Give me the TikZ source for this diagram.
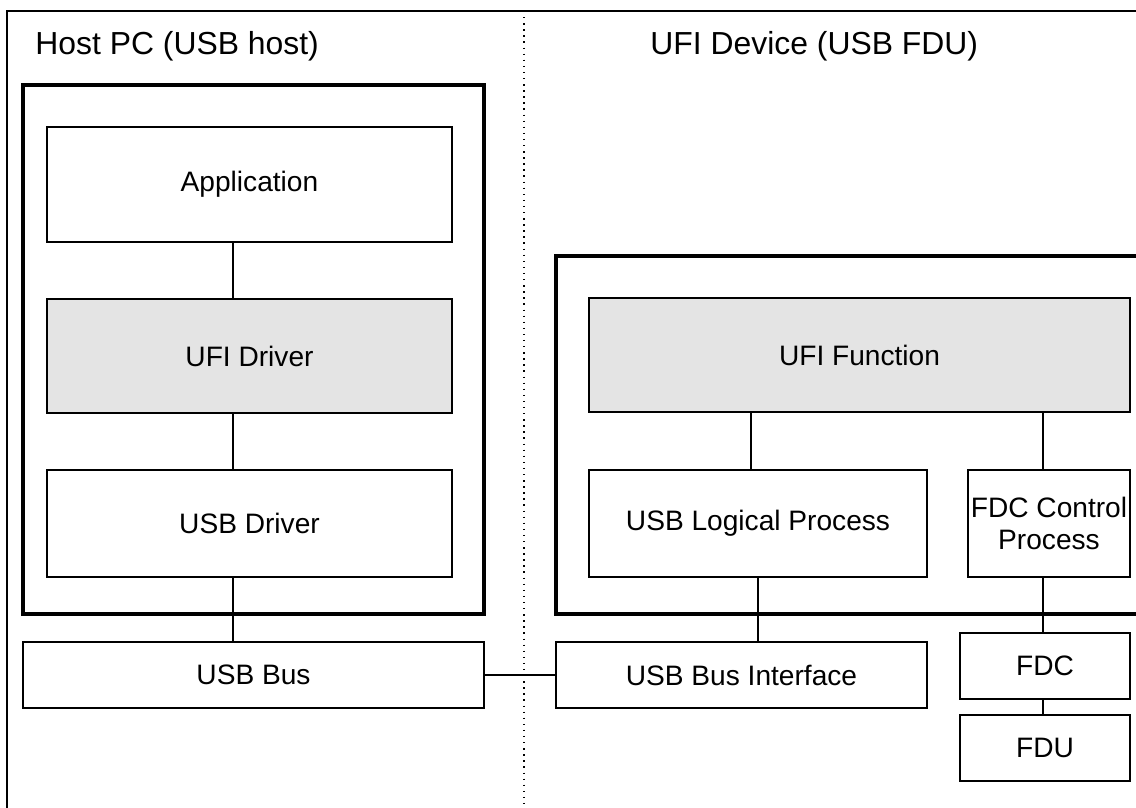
\documentclass[tikz,border=0pt]{standalone}
\usepackage{fontspec}
\setmainfont{Liberation Sans}
\usepackage{tikz}
\usepackage{xcolor}
\definecolor{ufigray}{HTML}{E4E4E4}
\tikzset{box/.style={draw,line width=0.55pt,inner sep=0pt,align=center,font=\fontsize{12}{14}\selectfont},
	grey box/.style={box,fill=ufigray},
	frame/.style={draw,line width=1.3pt},
	title/.style={anchor=west,inner sep=0pt,font=\fontsize{13.6}{16}\selectfont}}

\begin{document}
\begin{tikzpicture}[x=0.15mm,y=-0.15mm]
		\path[use as bounding box] (0,0) rectangle (1136,808);
		\clip (0,0) rectangle (1136,808);
		\draw[line width=0.6pt] (7,11) rectangle (1150,820);
		\draw[dotted,line width=0.6pt] (524,11) -- (524,808);
		\node[title] (hosttitle) at (35,46.5) {Host PC (USB host)};
		\node[title] (devtitle) at (650,46.5) {UFI Device (USB FDU)};
		\draw[frame] (23,85) rectangle (484,614);
		\draw[frame] (556,256) rectangle (1150,614);
		\coordinate (hx) at (233,0);
		\coordinate (fx) at (751,0);
		\coordinate (cx) at (1043,0);
		\begin{scope}[every node/.style={box}]
			\node (app) at (249.5,184.5) [minimum width=60.75mm,minimum height=17.25mm] {Application};
			\node[grey box] (ufidrv) at (249.5,356) [minimum width=60.75mm,minimum height=17.1mm] {UFI Driver};
			\node (usbdrv) at (249.5,523.5) [minimum width=60.75mm,minimum height=16.05mm] {USB Driver};
			\node (bus) at (253.5,675) [minimum width=69.15mm,minimum height=9.9mm] {USB Bus};
			\node[grey box] (ufifn) at (859.5,355) [minimum width=81.15mm,minimum height=17.1mm] {UFI Function};
			\node (logic) at (758,523.5) [minimum width=50.7mm,minimum height=16.05mm] {USB Logical Process};
			\node (fdcctl) at (1049,523.5) [minimum width=24.3mm,minimum height=16.05mm] {FDC Control\\Process};
			\node (busif) at (741.5,675) [minimum width=55.65mm,minimum height=9.9mm] {USB Bus Interface};
			\node (fdc) at (1045,666) [minimum width=25.5mm,minimum height=9.9mm] {FDC};
			\node (fdu) at (1045,748) [minimum width=25.5mm,minimum height=9.9mm] {FDU};
		\end{scope}
		\begin{scope}[every edge/.style={draw,line width=0.45pt}]
			\path (app.south -| hx) edge (ufidrv.north -| hx);
			\path (ufidrv.south -| hx) edge (usbdrv.north -| hx);
			\path (usbdrv.south -| hx) edge (bus.north -| hx);
			\path (bus.east) edge (busif.west);
			\path (ufifn.south -| fx) edge (logic.north -| fx);
			\path (ufifn.south -| cx) edge (fdcctl.north -| cx);
			\path (logic.south) edge (logic.south |- busif.north);
			\path (fdcctl.south -| cx) edge (fdc.north -| cx);
			\path (fdc.south -| cx) edge (fdu.north -| cx);
		\end{scope}
	\end{tikzpicture}
\end{document}
